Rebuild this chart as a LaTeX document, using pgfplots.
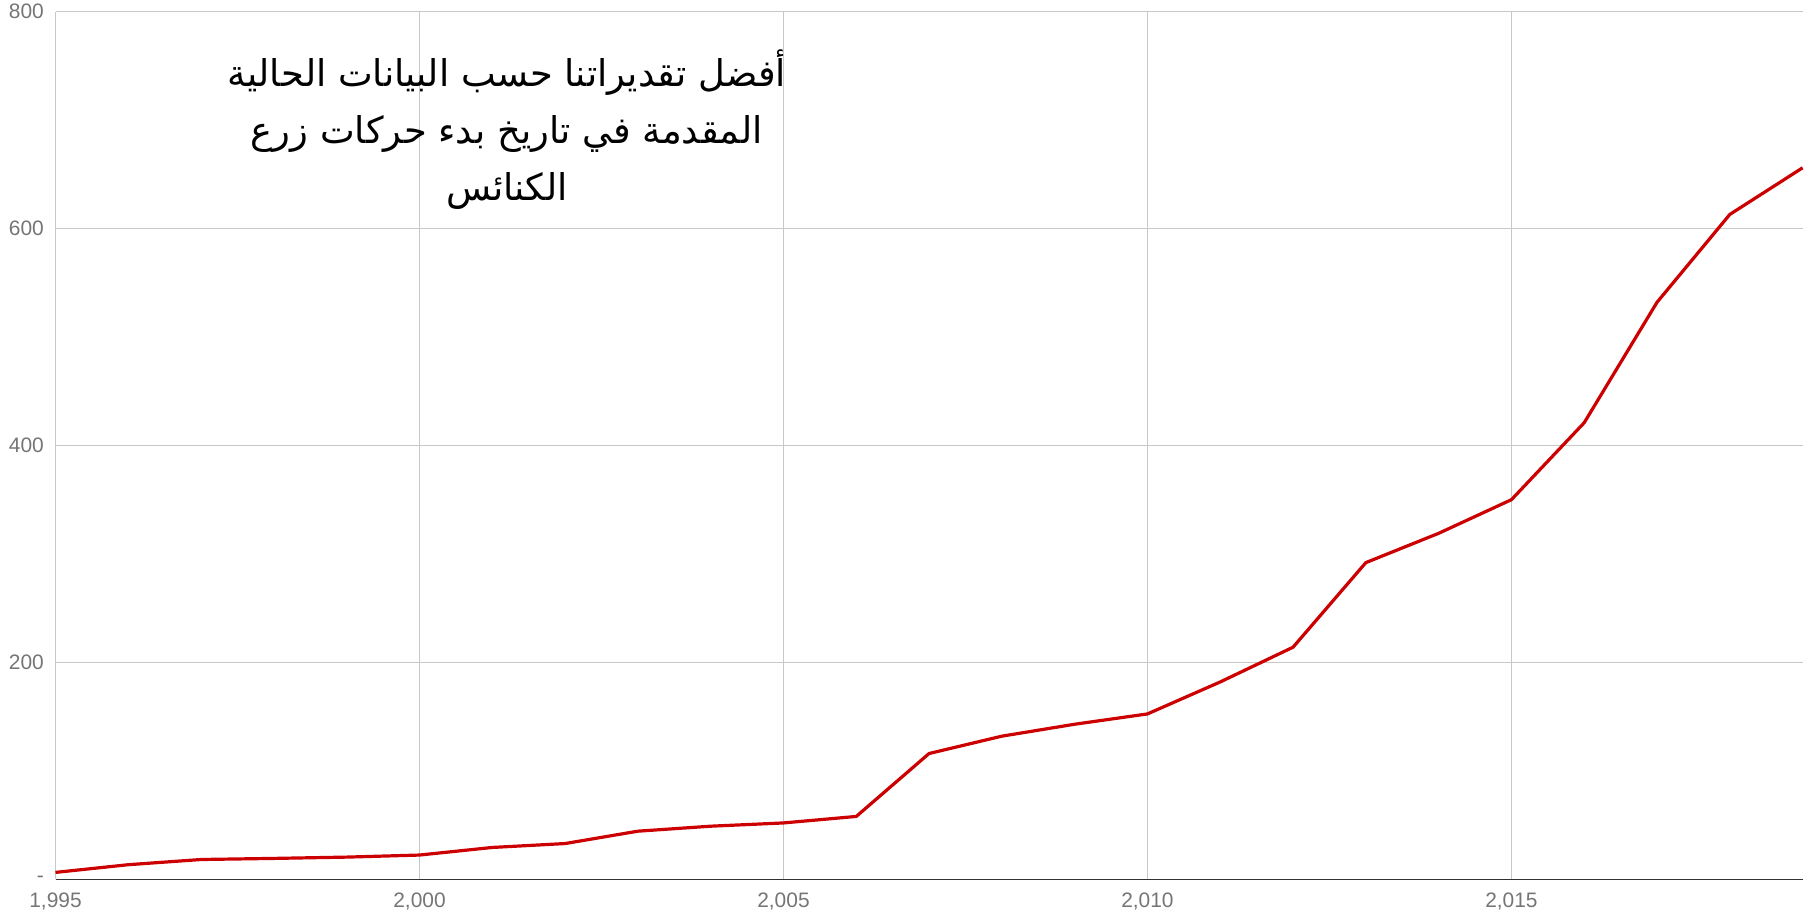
\documentclass[border=0pt]{standalone}
\usepackage{pgfplots}
\pgfplotsset{compat=1.18}
\usepackage{fontspec}
\setmainfont{Liberation Sans}
\newfontfamily\arabicfont[Script=Arabic]{DejaVu Sans}
\TeXXeTstate=1
\definecolor{linered}{HTML}{CC0000}
\definecolor{gridgray}{HTML}{C8C8C8}
\definecolor{labelgray}{HTML}{757575}
\begin{document}
\begin{tikzpicture}
\begin{axis}[name=ax, scale only axis, width=1747bp, height=867.7bp,
  xmin=1995, xmax=2019, ymin=0, ymax=800,
  xtick={1995,2000,2005,2010,2015},
  xticklabels={{1,995},{2,000},{2,005},{2,010},{2,015}},
  ytick={0,200,400,600,800}, yticklabels={-,200,400,600,800},
  axis x line*=bottom, axis y line*=left,
  x axis line style={color=black!80, line width=1.6bp, -},
  y axis line style={color=gridgray, line width=1.6bp, -},
  major tick length=0,
  grid=major, major grid style={color=gridgray, line width=1.6bp},
  tick label style={font=\fontsize{21}{24}\selectfont, color=labelgray},
  xticklabel style={inner sep=0pt, anchor=north, yshift=-13bp},
  yticklabel style={inner sep=0pt, anchor=east, xshift=-11.5bp},
  clip=false]
\addplot[color=linered, line width=3.2bp, mark=none] coordinates {
(1995,6.4) (1996,13.5) (1997,18.3) (1998,19.3) (1999,20.5) (2000,22.4)
(2001,29.4) (2002,33) (2003,44.4) (2004,49) (2005,52) (2006,58)
(2007,116) (2008,132) (2009,143) (2010,152.5) (2011,182) (2012,214)
(2013,292) (2014,319) (2015,350) (2016,421) (2017,532) (2018,613) (2019,656)};
\node[font=\arabicfont\fontsize{37}{57}\selectfont, align=center, text=black] at (axis cs:2001.2,691)
 {\beginR أفضل تقديراتنا حسب البيانات الحالية\endR\\ \beginR المقدمة في تاريخ بدء حركات  زرع\endR\\ \beginR الكنائس\endR};
\end{axis}
\pgfresetboundingbox
\path ([xshift=-55.5bp,yshift=-33.7bp]ax.south west) rectangle ([xshift=11.4bp,yshift=11.6bp]ax.north east);
\end{tikzpicture}
\end{document}
